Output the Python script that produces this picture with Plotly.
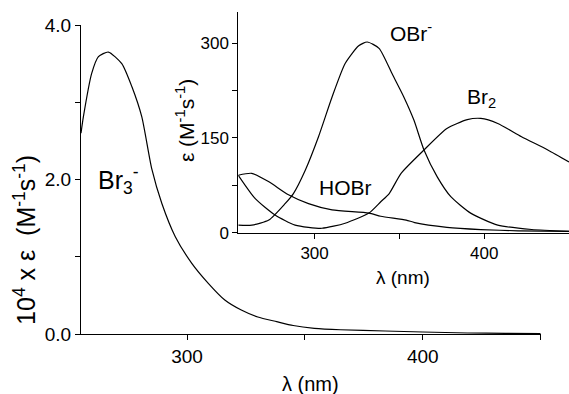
import plotly.graph_objects as go

# Main panel: Br3- (10^4 x epsilon)
br3_wl = [255, 256, 259.5, 262.4, 266.6, 272.3, 276.6, 280.8, 285, 289.3, 295, 302, 309, 316, 323, 330, 338, 345, 354, 365, 384, 400, 419, 435, 450]
br3_val = [2.60, 2.81, 3.37, 3.59, 3.65, 3.50, 3.20, 2.81, 2.14, 1.69, 1.26, 0.915, 0.656, 0.44, 0.31, 0.22, 0.16, 0.11, 0.074, 0.055, 0.039, 0.026, 0.013, 0.008, 0.005]

# Inset: OBr-, Br2, HOBr (epsilon)
obr_wl = [255, 263, 273, 282.6, 287.5, 294.5, 302.3, 310.3, 318, 326, 331, 338, 346, 352.6, 358.6, 364.5, 372.4, 380.3, 392, 408, 428, 450]
obr_val = [12, 12, 20, 46, 62, 99, 152, 215, 268, 296, 302, 292, 250, 215, 178, 131, 88, 57, 31, 12, 5, 2]

br2_wl = [255, 265, 276.7, 288.5, 304.3, 318, 332, 339, 344, 351, 364.5, 378, 390, 398, 408, 422, 437.5, 450]
br2_val = [91, 54, 28, 12, 7, 15, 31, 49, 62, 94, 131, 165, 179, 181, 173, 152, 131, 112]

hobr_wl = [255, 262.9, 272.8, 284.6, 296.4, 310.3, 332, 339, 354, 359, 378, 398, 420, 450]
hobr_val = [91, 94, 81, 60, 46, 36, 31, 26, 20, 16, 8.5, 5, 3, 2]

x_tickvals = [300, 350, 400, 450]
x_ticktext = ["300", "", "400", ""]
main_y_tickvals = [0, 1, 2, 3, 4]
main_y_ticktext = ["0.0", "", "2.0", "", "4.0"]
inset_y_tickvals = [0, 75, 150, 225, 300]
inset_y_ticktext = ["0", "", "150", "", "300"]

FONT = "Arial, Liberation Sans, sans-serif"
line = dict(color="black", width=1.2, shape="spline", smoothing=0.6)

fig = go.Figure()
fig.add_trace(go.Scatter(x=br3_wl, y=br3_val, mode="lines", line=line, xaxis="x", yaxis="y", showlegend=False))
for wl, val in [(obr_wl, obr_val), (br2_wl, br2_val), (hobr_wl, hobr_val)]:
    fig.add_trace(go.Scatter(x=wl, y=val, mode="lines", line=line, xaxis="x2", yaxis="y2", showlegend=False))

axis_common = dict(showgrid=False, zeroline=False, showline=True, linecolor="black", linewidth=1,
                   ticks="outside", ticklen=5, tickcolor="black", tickwidth=1)

fig.update_layout(
    width=569, height=394,
    margin=dict(l=81, r=0, t=10, b=60),
    paper_bgcolor="white", plot_bgcolor="rgba(0,0,0,0)",
    font=dict(family=FONT, color="black"),
    xaxis=dict(domain=[0, 0.942], range=[255, 450], tickvals=x_tickvals, ticktext=x_ticktext,
               tickfont=dict(size=19), anchor="y", **axis_common),
    yaxis=dict(domain=[0, 0.9537], range=[0, 4.0], tickvals=main_y_tickvals, ticktext=main_y_ticktext,
               tickfont=dict(size=19), anchor="x", **axis_common),
    xaxis2=dict(domain=[0.3223, 1.0], range=[255, 450], tickvals=x_tickvals, ticktext=x_ticktext,
                tickfont=dict(size=17), anchor="y2", **axis_common),
    yaxis2=dict(domain=[0.3127, 0.9947], range=[0, 350], tickvals=inset_y_tickvals, ticktext=inset_y_ticktext,
                tickfont=dict(size=17), anchor="x2", **axis_common),
)

c = dict(showarrow=False, xanchor="center", yanchor="middle")
ann = [
    dict(text="10<sup>4</sup> x ε&nbsp; (M<sup>-1</sup>s<sup>-1</sup>)", xref="paper", yref="paper",
         x=-0.115, y=0.29, textangle=-90, font=dict(size=25), **c),
    dict(text="λ (nm)", xref="paper", yref="paper", x=0.471, y=-0.154, font=dict(size=20), **c),
    dict(text="λ (nm)", xref="paper", yref="paper", x=0.66, y=0.173, font=dict(size=19), **c),
    dict(text="ε (M<sup>-1</sup>s<sup>-1</sup>)", xref="paper", yref="paper", x=0.213, y=0.66,
         textangle=-90, font=dict(size=21), **c),
    dict(text="Br<sub>3</sub><sup>-</sup>", xref="x", yref="y", x=271, y=2.0, font=dict(size=25), **c),
    dict(text="OBr<sup>-</sup>", xref="x2", yref="y2", x=356.6, y=318, font=dict(size=21), **c),
    dict(text="Br<sub>2</sub>", xref="x2", yref="y2", x=398.6, y=214, font=dict(size=21), **c),
    dict(text="HOBr", xref="x2", yref="y2", x=318, y=72, font=dict(size=21), **c),
]
fig.update_layout(annotations=ann)

fig.write_html("out.html")
